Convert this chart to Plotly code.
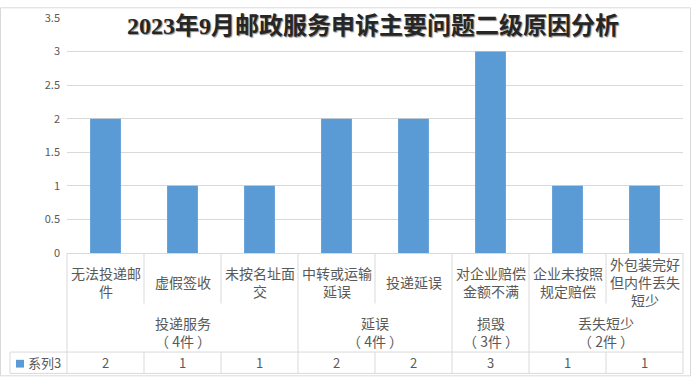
import plotly.graph_objects as go

# ---- data ----
title_text = "2023年9月邮政服务申诉主要问题二级原因分析"
categories = ["无法投递邮件", "虚假签收", "未按名址面交", "中转或运输延误",
              "投递延误", "对企业赔偿金额不满", "企业未按照规定赔偿", "外包装完好但内件丢失短少"]
category_labels = ["无法投递邮<br>件", "虚假签收", "未按名址面<br>交", "中转或运输<br>延误",
                   "投递延误", "对企业赔偿<br>金额不满", "企业未按照<br>规定赔偿", "外包装完好<br>但内件丢失<br>短少"]
groups = ["投递服务", "延误", "损毁", "丢失短少"]
group_sizes = [3, 2, 1, 2]
group_totals = [4, 4, 3, 2]
series_name = "系列3"
values = [2, 1, 1, 2, 2, 3, 1, 1]
y_ticks = [0, 0.5, 1, 1.5, 2, 2.5, 3, 3.5]

# ---- layout geometry (pixels) ----
W, H = 692, 381
L, R, T, B = 67, 9, 11, 128
PW, PH = W - L - R, H - T - B
BAR = "#5b9bd5"
GRID = "#d9d9d9"
TXT = "#595959"
FONT = "Noto Sans CJK SC"


def px_x(px):
    return (px - L) / PW


def px_y(py):
    return (H - B - py) / PH


N = len(categories)
fig = go.Figure()
fig.add_trace(go.Bar(x=list(range(N)), y=values, name=series_name,
                     marker=dict(color=BAR, line=dict(width=0)),
                     hoverinfo="x+y"))

shapes = []


def line(x0, y0, x1, y1, xref="paper"):
    shapes.append(dict(type="line", xref=xref, yref="paper", x0=x0, y0=y0, x1=x1, y1=y1,
                       line=dict(color=GRID, width=1), layer="above"))


y_axis = 0.0
y_mid = px_y(305)
y_row_top = px_y(355)
y_row_bot = px_y(377)

# group boundaries (full height) and inner boundaries (short)
bounds = [0]
for s in group_sizes:
    bounds.append(bounds[-1] + s)
for k in range(N + 1):
    xp = k / N
    if k in bounds:
        line(xp, y_axis, xp, y_row_bot)
    else:
        line(xp, y_axis, xp, y_mid)
        line(xp, y_row_top, xp, y_row_bot)

# series row
line(px_x(10), y_row_top, 1, y_row_top)
line(px_x(10), y_row_bot, 1, y_row_bot)
line(px_x(10), y_row_top, px_x(10), y_row_bot)

# legend key square
shapes.append(dict(type="rect", xref="paper", yref="paper",
                   x0=px_x(16), x1=px_x(24), y0=px_y(371), y1=px_y(363),
                   fillcolor=BAR, line=dict(width=0)))

# outer border
shapes.append(dict(type="rect", xref="paper", yref="paper",
                   x0=px_x(0.5), x1=px_x(690.5), y0=px_y(379.5), y1=px_y(0.5),
                   line=dict(color=GRID, width=1), fillcolor="rgba(0,0,0,0)"))

annotations = []
for i, lab in enumerate(category_labels):
    annotations.append(dict(x=i, xref="x", y=px_y(283), yref="paper", text=lab,
                            showarrow=False, xanchor="center", yanchor="middle", align="center",
                            font=dict(family=FONT, size=14, color=TXT)))

start = 0
for g, s, t in zip(groups, group_sizes, group_totals):
    cx = start + (s - 1) / 2
    text = f"{g}<br>（ {t}件 ）"
    annotations.append(dict(x=cx, xref="x", y=px_y(334), yref="paper",
                            text=text, showarrow=False,
                            xanchor="center", yanchor="middle", align="center",
                            font=dict(family=FONT, size=14, color=TXT)))
    start += s

for i, v in enumerate(values):
    annotations.append(dict(x=i, xref="x", y=px_y(366), yref="paper", text=str(v),
                            showarrow=False, xanchor="center", yanchor="middle",
                            font=dict(family=FONT, size=13, color=TXT)))

annotations.append(dict(x=px_x(26), xref="paper", y=px_y(366), yref="paper", text=series_name,
                        showarrow=False, xanchor="left", yanchor="middle",
                        font=dict(family=FONT, size=13, color=TXT)))

fig.update_layout(
    width=W, height=H,
    margin=dict(l=L, r=R, t=T, b=B, pad=0),
    paper_bgcolor="white", plot_bgcolor="white",
    showlegend=False,
    bargap=0.6,
    title=dict(text=title_text, x=373 / W, xref="container", xanchor="center",
               y=1 - 26 / H, yref="container", yanchor="middle",
               font=dict(family="Liberation Serif, Noto Sans CJK SC", size=24, color="#262626",
                         weight="bold", shadow="1px 1px 1px #8c8c8c")),
    xaxis=dict(range=[-0.5, N - 0.5], showticklabels=False, showgrid=False, zeroline=False,
               showline=True, linecolor=GRID, linewidth=1, ticks="", fixedrange=True),
    yaxis=dict(range=[0, 3.5], tickvals=y_ticks, showgrid=True, gridcolor=GRID, gridwidth=1,
               zeroline=False, showline=False, ticks="", ticklabelstandoff=6,
               tickfont=dict(family=FONT, size=11, color=TXT), fixedrange=True),
    shapes=shapes,
    annotations=annotations,
)

fig.write_html("out.html", config={"displayModeBar": False},
               post_script="document.body.style.margin='0';document.body.style.overflow='hidden';")
